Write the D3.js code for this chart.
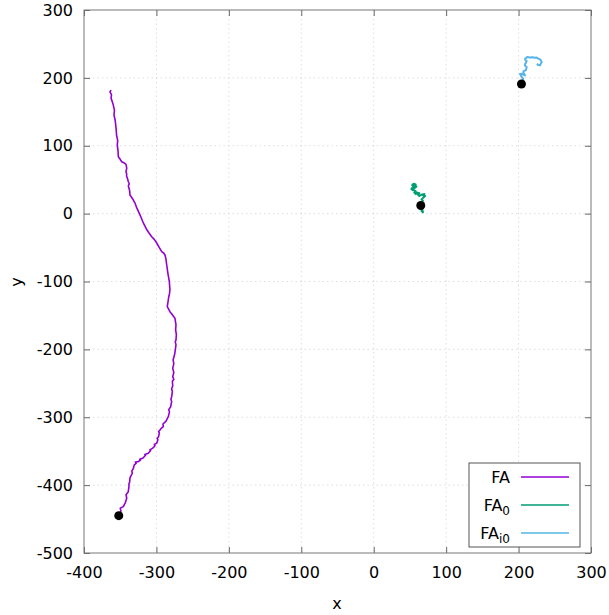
<!DOCTYPE html>
<html>
<head>
<meta charset="utf-8">
<script src="https://cdn.jsdelivr.net/npm/d3@7"></script>
<style>
body { margin: 0; background: #fff; }
text { font-family: "DejaVu Sans", sans-serif; }
</style>
</head>
<body>
<svg id="chart" width="609" height="615"></svg>
<script>
// Data (x, y)
const faX = [
  -352,-349,-350,-345.7,-344,-343,-341,-342,-339,-337.9,
  -338,-337,-336.5,-335,-333.3,-334,-332,-330.6,-328,-329,
  -325,-322,-323,-318.5,-315,-316,-311.2,-308,-309,-304.7,
  -302,-303,-299.6,-298,-299,-297.1,-296,-297,-295.1,-293,
  -290.5,-291,-287,-285,-283.6,-282,-283,-280.3,-279,-280,
  -278.9,-278,-279,-277.5,-278,-276,-277.5,-276,-277.5,-276,
  -277,-275,
  -273.9,-273,-274,-273,-272.5,-273.5,-273,-274.4,
  -276,-278,-281.3,-283,-285,-284,-283.3,-282,-281.3,-282.2,
  -283,-284,-285.8,-287,-288.2,-290,-292.7,-296,-299.6,-303,
  -306.5,-310,-313,-316,-318.1,-321,-323.6,-327,-329.6,-333,
  -336.5,-337,-338.8,-337.5,-338.8,-340,-341.3,-341,-342,-341,
  -342,-345,-348,-350,-352.6,-353,-354,-353.5,-355.1,-355.5,
  -356.2,-357,-358.6,-358,-359.5,-361,-362.7,-362,-364.1,-362.5
];
const faY = [
  -445,-438,-434,-431.7,-428,-426,-419.3,-414,-410,-402.2,
  -398,-396,-389.4,-386,-382.5,-379,-376,-370.3,-368,-366,
  -365.4,-363,-362,-360,-356,-355,-353,-349,-348,-345.2,
  -342,-340,-338.3,-333,-331,-329,-323,-321,-318.7,-316,
  -313.8,-310,-306,-302,-299.1,-292,-289,-284.4,-277,-273,
  -269.7,-262,-258,-253.9,-247,-244,-240.2,-234,-228,-221,
  -215.6,-208,
  -200.9,-193,-189,-186.2,-178,-171.4,-164,-154.2,
  -152,-149,-144.5,-141,-137.1,-130,-124.3,-118,-112.5,-100.3,
  -95,-89,-75.7,-66,-61,-58,-56.1,-50,-43.3,-38,
  -34,-29,-24.2,-18,-13.8,-6,0.4,8,15.6,22,
  27.4,34,40.6,44,47,52,55.4,58,61.7,67,
  72.6,75,76.4,80,83.8,92,101,108,115.8,123,
  130.5,138,145.2,152,159.9,165,170.3,175,179.5,182
];

const fa0X = [65,67,66,68,67,66,64,66,68,66,69,71,68,70,66,63,61,63,60,58,56,58,55,54,57,59,56,53,55,58,54,52,55];
const fa0Y = [12,7,4,2,6,10,14,17,19,21,24,26,27,29,28,26,28,30,31,29,31,33,35,37,38,40,41,42,44,43,39,36,34];

const fai0X = [204,206.5,204,202,204,208.9,206.5,207,210.2,211.2,209,208.9,210,211.2,209.5,208.9,210,211.6,215.8,219,222.7,225,227.2,230,231.9,229.6,227,225.4];
const fai0Y = [190.4,198.7,202,205.6,206,203.7,207.8,210,211.5,215.9,218,220.3,222,224.7,226,228.1,229,230.6,229.9,230.5,229.6,230,228.4,227,223.3,218.4,219,221];

const startX = [-352, 65, 204];
const startY = [-445, 12, 191];

const xTicks = [-400,-300,-200,-100,0,100,200,300];
const yTicks = [-500,-400,-300,-200,-100,0,100,200,300];

const seriesNames = ["FA", "FA0", "FAi0"];
const seriesColors = ["#9400d3", "#009e73", "#56b4e9"];

const svg = d3.select("#chart");
const L = 84, R = 591, T = 10, B = 553;
const x = d3.scaleLinear().domain([-400, 300]).range([L, R]);
const y = d3.scaleLinear().domain([-500, 300]).range([B, T]);

// grid
const grid = svg.append("g");
grid.selectAll("line.gx").data(xTicks.slice(1, -1)).enter().append("line")
  .attr("x1", d => x(d)).attr("x2", d => x(d)).attr("y1", T).attr("y2", B)
  .attr("stroke", "#c8c8c8").attr("stroke-width", 0.6).attr("stroke-dasharray", "1.5,3");
grid.selectAll("line.gy").data(yTicks.slice(1, -1)).enter().append("line")
  .attr("y1", d => y(d)).attr("y2", d => y(d)).attr("x1", L).attr("x2", R)
  .attr("stroke", "#c8c8c8").attr("stroke-width", 0.6).attr("stroke-dasharray", "1.5,3");

// axes
const fmt = d => String(d);
const axB = svg.append("g").attr("transform", `translate(0,${B})`)
  .call(d3.axisBottom(x).tickValues(xTicks).tickSize(-6).tickPadding(14).tickFormat(fmt));
const axL = svg.append("g").attr("transform", `translate(${L},0)`)
  .call(d3.axisLeft(y).tickValues(yTicks).tickSize(-6).tickPadding(11).tickFormat(fmt));
const axT = svg.append("g").attr("transform", `translate(0,${T})`)
  .call(d3.axisTop(x).tickValues(xTicks).tickSize(-6).tickFormat(""));
const axR = svg.append("g").attr("transform", `translate(${R},0)`)
  .call(d3.axisRight(y).tickValues(yTicks).tickSize(-6).tickFormat(""));
[axB, axL, axT, axR].forEach(a => {
  a.select(".domain").remove();
  a.selectAll(".tick line").attr("stroke", "#666").attr("stroke-width", 1);
  a.selectAll(".tick text").attr("font-size", 16).attr("fill", "#000")
    .attr("font-family", "DejaVu Sans, sans-serif");
});
axB.selectAll(".tick text").attr("dy", "0.71em");

svg.append("rect").attr("x", L).attr("y", T).attr("width", R - L).attr("height", B - T)
  .attr("fill", "none").attr("stroke", "#777").attr("stroke-width", 1);

// axis labels
svg.append("text").attr("x", 337).attr("y", 609).attr("text-anchor", "middle")
  .attr("font-size", 16).text("x");
svg.append("text").attr("transform", "translate(22,282) rotate(-90)").attr("text-anchor", "middle")
  .attr("font-size", 16).text("y");

// lines
const line = d3.line().x(d => x(d[0])).y(d => y(d[1]));
const series = [
  d3.zip(faX, faY),
  d3.zip(fa0X, fa0Y),
  d3.zip(fai0X, fai0Y)
];
series.forEach((s, i) => {
  svg.append("path").datum(s).attr("d", line).attr("fill", "none")
    .attr("stroke", seriesColors[i]).attr("stroke-width", i === 0 ? 1.6 : 2)
    .attr("stroke-linejoin", "round");
});

// start points
svg.selectAll("circle.start").data(d3.zip(startX, startY)).enter().append("circle")
  .attr("cx", d => x(d[0])).attr("cy", d => y(d[1])).attr("r", 4.5).attr("fill", "#000");

// legend
const lg = svg.append("g");
lg.append("rect").attr("x", 469).attr("y", 463).attr("width", 111).attr("height", 84)
  .attr("fill", "#fff").attr("stroke", "#555").attr("stroke-width", 1);
const rowsY = [477, 505, 533];
seriesNames.forEach((n, i) => {
  const t = lg.append("text").attr("x", 510).attr("y", rowsY[i] + 6).attr("text-anchor", "end")
    .attr("font-size", 16);
  t.append("tspan").text("FA");
  if (n !== "FA") {
    t.append("tspan").attr("font-size", 12).attr("dy", 4).text(n.slice(2));
  }
  lg.append("line").attr("x1", 521).attr("x2", 569).attr("y1", rowsY[i]).attr("y2", rowsY[i])
    .attr("stroke", seriesColors[i]).attr("stroke-width", 1.5);
});
</script>
</body>
</html>
